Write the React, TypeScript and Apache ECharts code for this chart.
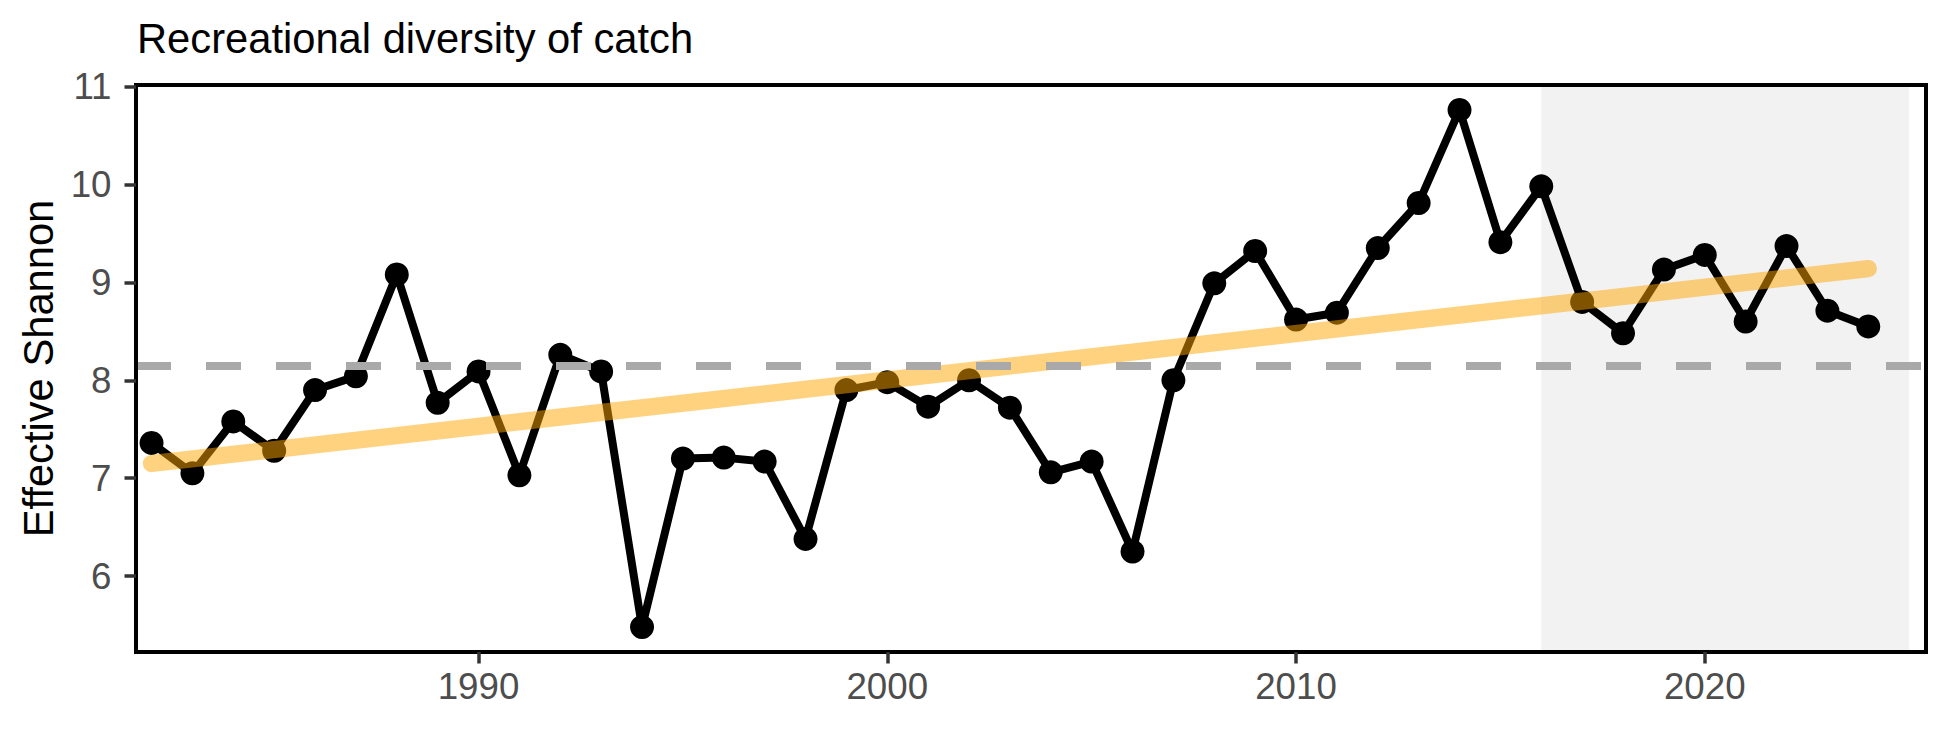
import React, { useEffect, useRef } from "react";
import * as echarts from "echarts";

const years = [
  1982, 1983, 1984, 1985, 1986, 1987, 1988, 1989, 1990, 1991, 1992, 1993, 1994, 1995, 1996,
  1997, 1998, 1999, 2000, 2001, 2002, 2003, 2004, 2005, 2006, 2007, 2008, 2009, 2010, 2011,
  2012, 2013, 2014, 2015, 2016, 2017, 2018, 2019, 2020, 2021, 2022, 2023, 2024,
];
const shannon = [
  7.36, 7.05, 7.58, 7.28, 7.9, 8.04, 9.08, 7.77, 8.09, 7.03, 8.26, 8.09, 5.48, 7.2, 7.21,
  7.17, 6.38, 7.9, 7.98, 7.73, 8.0, 7.72, 7.06, 7.17, 6.25, 8.0, 8.99, 9.32, 8.62, 8.69,
  9.35, 9.81, 10.76, 9.41, 9.98, 8.8, 8.48, 9.13, 9.28, 8.6, 9.37, 8.71, 8.55,
];
const trendYears = [1982, 2024];
const trendValues = [7.15, 9.14];
const meanValue = 8.15;
const shadeRange = [2016, 2025];
const xTicks = [1990, 2000, 2010, 2020];
const yTicks = [6, 7, 8, 9, 10, 11];
const titleText = "Recreational diversity of catch";
const yName = "Effective Shannon";

const FONT = "'Liberation Sans', Arial, Helvetica, sans-serif";

export default function App() {
  const ref = useRef<HTMLDivElement>(null);
  useEffect(() => {
    document.body.style.margin = "0";
    if (!ref.current) return;
    const chart = echarts.init(ref.current, null, { renderer: "svg" });
    const xMin = 1981.62;
    const xMax = 2025.4;
    const yMin = 5.225;
    const yMax = 11.015;
    const border = { color: "#000", width: 4, cap: "square" };
    const option: any = {
      animation: false,
      backgroundColor: "#ffffff",
      title: {
        text: titleText,
        left: 132,
        top: 12,
        textStyle: { fontFamily: FONT, fontSize: 41.7, fontWeight: "normal", color: "#000" },
      },
      grid: { left: 136, right: 24.5, top: 85, bottom: 98 },
      xAxis: [
        {
          type: "value",
          min: xMin,
          max: xMax,
          z: 10,
          axisLine: { show: true, onZero: false, lineStyle: border },
          axisTick: {
            show: true,
            length: 11.5,
            customValues: xTicks,
            lineStyle: { color: "#333333", width: 3.5 },
          },
          axisLabel: {
            customValues: xTicks,
            formatter: (v: number) => String(v),
            color: "#4D4D4D",
            fontSize: 36.7,
            fontFamily: FONT,
            margin: 16,
          },
          splitLine: { show: false },
        },
        {
          type: "value",
          position: "top",
          min: xMin,
          max: xMax,
          z: 10,
          axisLine: { show: true, onZero: false, lineStyle: border },
          axisTick: { show: false },
          axisLabel: { show: false },
          splitLine: { show: false },
        },
      ],
      yAxis: [
        {
          type: "value",
          min: yMin,
          max: yMax,
          z: 10,
          name: yName,
          nameLocation: "middle",
          nameGap: 77,
          nameTextStyle: { fontFamily: FONT, fontSize: 41.7, color: "#000" },
          axisLine: { show: true, onZero: false, lineStyle: border },
          axisTick: {
            show: true,
            length: 11.5,
            customValues: yTicks,
            lineStyle: { color: "#333333", width: 3.5 },
          },
          axisLabel: {
            customValues: yTicks,
            formatter: (v: number) => String(v),
            color: "#4D4D4D",
            fontSize: 36.7,
            fontFamily: FONT,
            margin: 24.5,
          },
          splitLine: { show: false },
        },
        {
          type: "value",
          position: "right",
          min: yMin,
          max: yMax,
          z: 10,
          axisLine: { show: true, onZero: false, lineStyle: border },
          axisTick: { show: false },
          axisLabel: { show: false },
          splitLine: { show: false },
        },
      ],
      series: [
        {
          type: "line",
          data: [],
          z: 1,
          silent: true,
          markArea: {
            silent: true,
            itemStyle: { color: "#F2F2F2" },
            data: [[{ xAxis: shadeRange[0] }, { xAxis: shadeRange[1] }]],
          },
        },
        {
          type: "line",
          data: [],
          z: 2,
          silent: true,
          markLine: {
            silent: true,
            symbol: ["none", "none"],
            label: { show: false },
            emphasis: { disabled: true },
            lineStyle: { color: "#A9A9A9", width: 8, type: [35, 35], cap: "butt" },
            data: [{ yAxis: meanValue }],
          },
        },
        {
          type: "line",
          data: years.map((y, i) => [y, shannon[i]]),
          z: 3,
          symbol: "circle",
          symbolSize: 24,
          itemStyle: { color: "#000" },
          lineStyle: { color: "#000", width: 8, join: "round" },
          emphasis: { disabled: true },
        },
        {
          type: "line",
          data: trendYears.map((y, i) => [y, trendValues[i]]),
          z: 4,
          symbol: "none",
          lineStyle: { color: "#FFA500", opacity: 0.5, width: 17.3, cap: "round" },
          emphasis: { disabled: true },
        },
      ],
    };
    chart.setOption(option);
    return () => chart.dispose();
  }, []);
  return <div ref={ref} style={{ width: 1950, height: 750 }} />;
}
